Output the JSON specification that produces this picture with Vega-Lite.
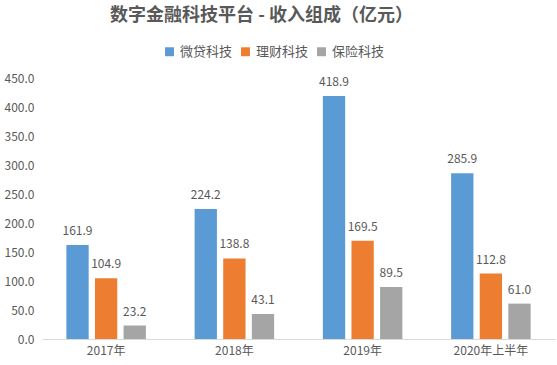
{
  "$schema": "https://vega.github.io/schema/vega-lite/v6.json",
  "autosize": {"type": "none"},
  "width": 513,
  "height": 261,
  "padding": {"left": 42, "top": 78, "right": 2, "bottom": 26},
  "background": "white",
  "config": {
    "font": "Noto Sans CJK SC",
    "view": {"stroke": null}
  },
  "title": {
    "text": "数字金融科技平台 - 收入组成（亿元）",
    "fontSize": 18,
    "fontWeight": "bold",
    "color": "#595959",
    "anchor": "middle",
    "dx": -37,
    "offset": 20,
    "font": "Noto Sans CJK SC"
  },
  "data": {
    "values": [
      {"year": "2017年", "series": "微贷科技", "value": 161.9},
      {"year": "2017年", "series": "理财科技", "value": 104.9},
      {"year": "2017年", "series": "保险科技", "value": 23.2},
      {"year": "2018年", "series": "微贷科技", "value": 224.2},
      {"year": "2018年", "series": "理财科技", "value": 138.8},
      {"year": "2018年", "series": "保险科技", "value": 43.1},
      {"year": "2019年", "series": "微贷科技", "value": 418.9},
      {"year": "2019年", "series": "理财科技", "value": 169.5},
      {"year": "2019年", "series": "保险科技", "value": 89.5},
      {"year": "2020年上半年", "series": "微贷科技", "value": 285.9},
      {"year": "2020年上半年", "series": "理财科技", "value": 112.8},
      {"year": "2020年上半年", "series": "保险科技", "value": 61.0}
    ]
  },
  "encoding": {
    "x": {
      "field": "year", "type": "nominal", "sort": null,
      "scale": {"paddingInner": 0.38, "paddingOuter": 0.19},
      "axis": {
        "title": null, "labelAngle": 0, "labelFontSize": 12, "labelColor": "#595959",
        "domainColor": "#D9D9D9", "ticks": false, "labelPadding": 6
      }
    },
    "xOffset": {
      "field": "series", "type": "nominal",
      "sort": ["微贷科技", "理财科技", "保险科技"],
      "scale": {"paddingInner": 0.22}
    },
    "y": {
      "field": "value", "type": "quantitative",
      "scale": {"domain": [0, 450]},
      "axis": {
        "title": null, "values": [0, 50, 100, 150, 200, 250, 300, 350, 400, 450],
        "format": ".1f", "labelFontSize": 12, "labelColor": "#595959",
        "domain": false, "ticks": false, "grid": false, "labelPadding": 8
      }
    }
  },
  "layer": [
    {
      "mark": {"type": "bar"},
      "encoding": {
        "color": {
          "field": "series", "type": "nominal",
          "sort": ["微贷科技", "理财科技", "保险科技"],
          "scale": {"domain": ["微贷科技", "理财科技", "保险科技"], "range": ["#5B9BD5", "#ED7D31", "#A5A5A5"]},
          "legend": {
            "title": null, "orient": "none", "direction": "horizontal",
            "legendX": 121, "legendY": -33,
            "symbolType": "square", "symbolSize": 80, "symbolStrokeWidth": 0,
            "labelFontSize": 13, "labelColor": "#595959", "columnPadding": 6, "labelOffset": 4
          }
        }
      }
    },
    {
      "mark": {"type": "text", "dy": -14, "fontSize": 12, "color": "#595959"},
      "encoding": {
        "text": {"field": "value", "type": "quantitative", "format": ".1f"}
      }
    }
  ]
}
